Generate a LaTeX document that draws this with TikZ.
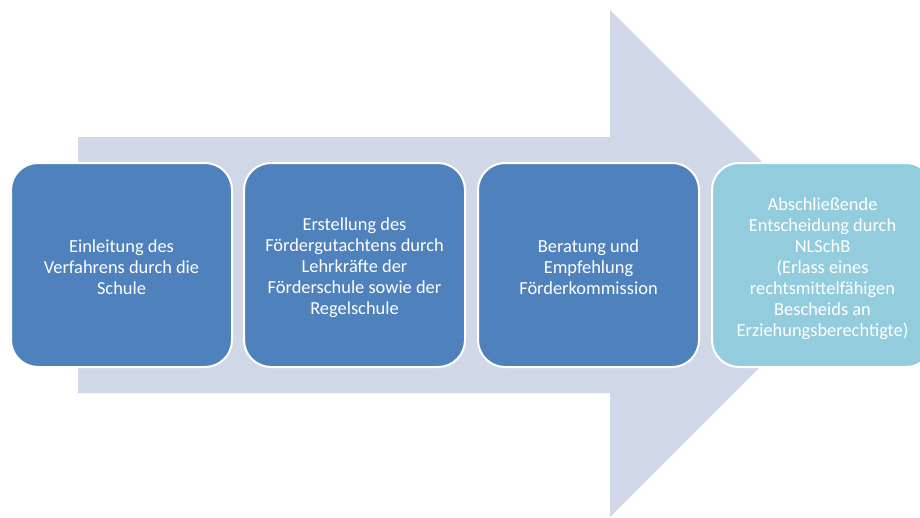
\documentclass[tikz,border=0pt]{standalone}
\usepackage{fontspec}
\setmainfont{Carlito}
\definecolor{arrowfill}{HTML}{D0D8E8}
\definecolor{boxblue}{HTML}{4F81BD}
\definecolor{boxlight}{HTML}{93CDDD}
\tikzset{
  stepbox/.style={rectangle, rounded corners=27pt, draw=white, line width=2pt,
    minimum width=221pt, minimum height=204pt, inner sep=0pt},
  steptext/.style={text=white, align=center, inner sep=0pt,
    font=\fontsize{18.4}{21}\selectfont},
}
\begin{document}
\begin{tikzpicture}[x=1pt,y=-1pt]
\useasboundingbox (0,0) rectangle (920,517);
\clip (0,0) rectangle (920,517);
\fill[arrowfill] (78,137) -- (610,137) -- (610,10) -- (863.5,263.5) -- (610,517) -- (610,393) -- (78,393) -- cycle;
\node[stepbox, fill=boxblue] (s1) at (121.5,265) {};
\node[stepbox, fill=boxblue] (s2) at (354.5,265) {};
\node[stepbox, fill=boxblue] (s3) at (588.5,265) {};
\node[stepbox, fill=boxlight] (s4) at (822.5,265) {};
\node[steptext] (t1) at ([yshift=-2.5pt]s1.center) {Einleitung des\\Verfahrens durch die\\Schule};
\node[steptext] (t2) at ([yshift=-3pt]s2.center) {Erstellung des\\Fördergutachtens durch\\Lehrkräfte der\\Förderschule sowie der\\Regelschule};
\node[steptext] (t3) at ([yshift=-2.5pt]s3.center) {Beratung und\\Empfehlung\\Förderkommission};
\node[steptext] (t4) at ([yshift=-4pt]s4.center) {Abschließende\\Entscheidung durch\\NLSchB\\(Erlass eines\\rechtsmittelfähigen\\Bescheids an\\Erziehungsberechtigte)};
\end{tikzpicture}
\end{document}
